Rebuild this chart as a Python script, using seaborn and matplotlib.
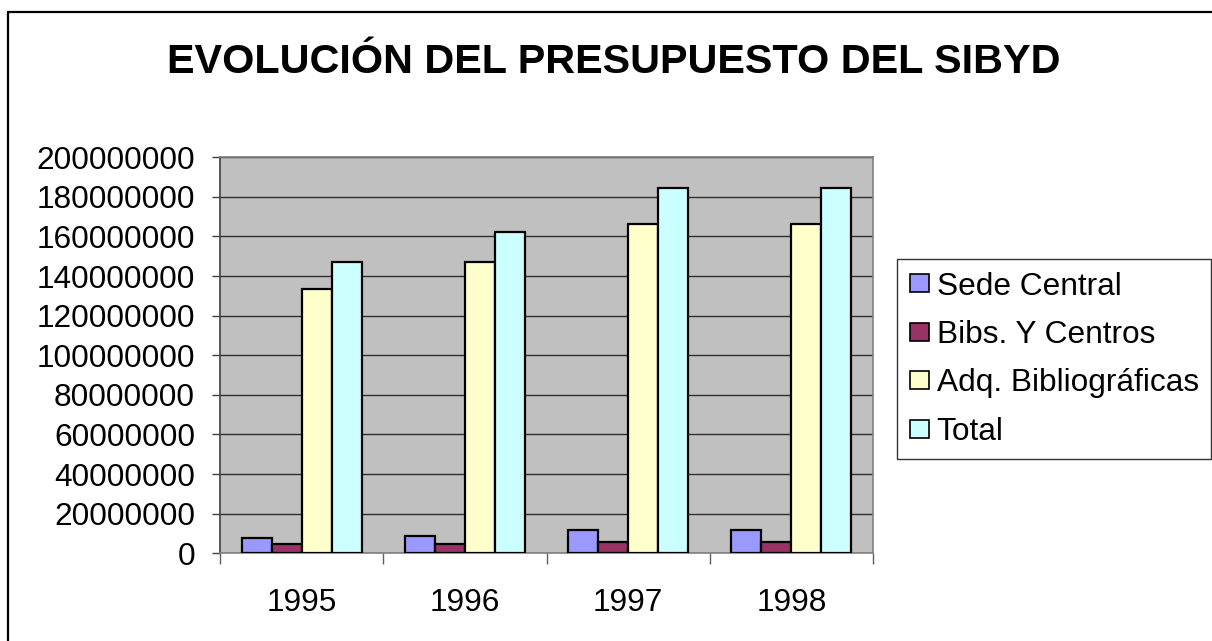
import numpy as np
import pandas as pd
import matplotlib
matplotlib.use("Agg")
import matplotlib.pyplot as plt
import seaborn as sns
from matplotlib.ticker import FuncFormatter, FixedLocator
from matplotlib.lines import Line2D

years = ["1995", "1996", "1997", "1998"]
series = ["Sede Central", "Bibs. Y Centros", "Adq. Bibliográficas", "Total"]
sede_central = [7900000, 8900000, 11800000, 11800000]
bibs_centros = [4850000, 4850000, 5700000, 5700000]
adq_bibliograficas = [133300000, 147300000, 166300000, 166300000]
total = [147200000, 162400000, 184300000, 184300000]
colors = ["#9999FF", "#993366", "#FFFFCC", "#CCFFFF"]
yticks = list(range(0, 200000001, 20000000))

df = pd.DataFrame({
    "year": years * 4,
    "serie": sum([[s] * 4 for s in series], []),
    "value": sede_central + bibs_centros + adq_bibliograficas + total,
})

sns.set_style("white")
plt.rcParams["font.family"] = ["Liberation Sans", "DejaVu Sans"]
plt.rcParams["text.color"] = "black"
plt.rcParams["xtick.labelcolor"] = "black"
plt.rcParams["ytick.labelcolor"] = "black"

FS = 22.8

fig = plt.figure(figsize=(12.12, 6.41), dpi=100)
ax = fig.add_axes([220 / 1212, 1 - 553.3 / 641, (873 - 220) / 1212, (553.3 - 157.3) / 641])
ax.set_facecolor("#C0C0C0")

sns.barplot(data=df, x="year", y="value", hue="serie", hue_order=series,
            palette=colors, saturation=1, width=0.735, edgecolor="black",
            linewidth=1.6, ax=ax, legend=True, zorder=3)

ax.set_xlim(-0.5, 3.5)
ax.set_ylim(0, 200000000)
ax.set_yticks(yticks)
ax.yaxis.set_major_formatter(FuncFormatter(lambda v, p: f"{int(v)}"))
ax.grid(axis="y", color="#303030", linewidth=1.0, zorder=1)
ax.set_axisbelow(True)
ax.set_xlabel("")
ax.set_ylabel("")

# x ticks at category boundaries, labels centred
ax.xaxis.set_major_locator(FixedLocator([-0.5, 0.5, 1.5, 2.5, 3.5]))
ax.xaxis.set_major_formatter(FuncFormatter(lambda v, p: ""))
ax.xaxis.set_minor_locator(FixedLocator([0, 1, 2, 3]))
ax.set_xticklabels(years, minor=True)
ax.tick_params(axis="x", which="major", length=8, width=1, color="#606060", direction="out", bottom=True)
ax.tick_params(axis="x", which="minor", length=0, pad=25, labelsize=FS, bottom=True)
ax.tick_params(axis="y", length=6, width=1, color="#404040", direction="out", pad=12, labelsize=FS, left=True)

for side, col in [("left", "#404040"), ("bottom", "#808080"), ("top", "#808080"), ("right", "#808080")]:
    ax.spines[side].set_visible(True)
    ax.spines[side].set_color(col)
    ax.spines[side].set_linewidth(1.2)

fig.text(614 / 1212, 1 - 62 / 641, "EVOLUCIÓN DEL PRESUPUESTO DEL SIBYD", fontsize=29.8,
         fontweight="bold", ha="center", va="center", color="black")

leg = ax.legend(loc="upper left", bbox_to_anchor=(897 / 1212, 1 - 259 / 641),
                bbox_transform=fig.transFigure, fontsize=FS, frameon=True,
                fancybox=False, shadow=False, handlelength=0.6, handleheight=0.5,
                handletextpad=0.25, labelspacing=0.58, borderpad=0.4,
                borderaxespad=0, title=None)
leg.get_frame().set_edgecolor("black")
leg.get_frame().set_linewidth(1.0)
for h in leg.legend_handles:
    h.set_edgecolor("black")
    h.set_linewidth(1.2)

# outer border of chart area
fig.add_artist(Line2D([8 / 1212, 1.0], [1 - 12 / 641, 1 - 12 / 641], color="black", linewidth=1.6,
                      transform=fig.transFigure))
fig.add_artist(Line2D([8 / 1212, 8 / 1212], [0.0, 1 - 12 / 641], color="black", linewidth=1.6,
                      transform=fig.transFigure))

fig.savefig("out.png", dpi=100)
